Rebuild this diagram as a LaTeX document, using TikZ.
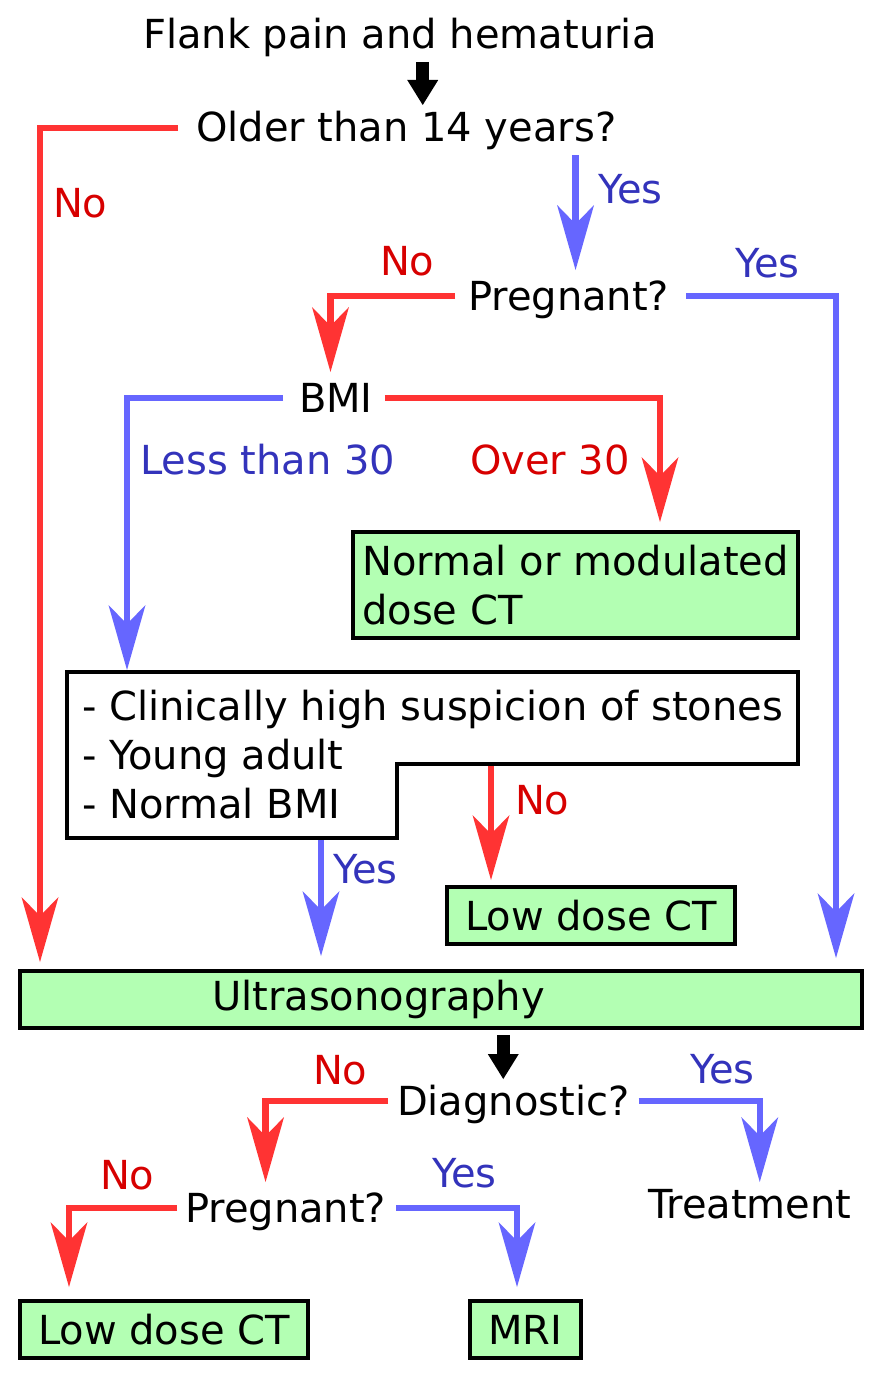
\documentclass[tikz,border=0pt]{standalone}
\usepackage{fontspec}
\setmainfont{DejaVu Sans}
\usetikzlibrary{arrows.meta}
\definecolor{redline}{RGB}{255,51,51}
\definecolor{redtext}{RGB}{215,0,0}
\definecolor{blueline}{RGB}{102,102,255}
\definecolor{bluetext}{RGB}{51,51,187}
\definecolor{boxgreen}{RGB}{179,255,179}
\begin{document}
\begin{tikzpicture}[x=1pt,y=-1pt,
  fnt/.style={font=\fontsize{40}{49}\selectfont},
  txt/.style={fnt, inner sep=0pt, outer sep=0pt, text height=28pt, text depth=0pt, anchor=base west},
  rlbl/.style={txt, text=redtext},
  blbl/.style={txt, text=bluetext},
  box/.style={fnt, draw=black, line width=3.5pt, fill=boxgreen, inner sep=0pt, outer sep=0pt, anchor=north west, align=left},
  conn/.style={line width=6.5pt},
  redarrow/.style={conn, draw=redline, -{Stealth[length=65pt,width=37pt,inset=19pt,line width=0pt]}},
  bluearrow/.style={conn, draw=blueline, -{Stealth[length=65pt,width=37pt,inset=19pt,line width=0pt]}},
  blackarrow/.style={line width=13pt, draw=black, -{Triangle[length=25pt,width=31pt,line width=0pt]}}
]
\fill[white] (0,0) rectangle (883,1378);
\useasboundingbox (0,0) rectangle (883,1378);

% text nodes
\node[txt] (flank) at (143,49) {Flank pain and hematuria};
\node[txt] (older) at (196,142) {Older than 14 years?};
\node[txt] (preg) at (468,310) {Pregnant?};
\node[txt] (bmi) at (299,412) {BMI};
\node[txt] (diag) at (397,1115) {Diagnostic?};
\node[txt] (treat) at (648,1218) {Treatment};
\node[txt] (preg2) at (185,1222) {Pregnant?};

% boxes
\node[box, minimum width=445pt, minimum height=106pt] (nmct) at (353,532) {Normal or modulated\\dose CT};
\node[box, minimum width=288pt, minimum height=57pt] (ldct) at (447,887) {Low dose CT};
\node[box, minimum width=842pt, minimum height=57pt, text width=458pt, inner xsep=192pt] (us) at (20,971) {Ultrasonography};
\node[box, minimum width=288pt, minimum height=57pt] (ldct2) at (20,1301) {Low dose CT};
\node[box, minimum width=111pt, minimum height=57pt] (mri) at (470,1301) {MRI};

% notched box
\coordinate (p1) at (67,672);
\coordinate (p2) at (798,672);
\coordinate (p3) at (798,764);
\coordinate (p4) at (397,764);
\coordinate (p5) at (397,838);
\coordinate (p6) at (67,838);
\coordinate (lessin) at (127,672);
\coordinate (susno) at (491,764);
\coordinate (susyes) at (321,838);
\node[fnt, align=left, inner sep=0pt, outer sep=0pt, anchor=north west] (susp) at (82,690.6)
  {- Clinically high suspicion of stones\\- Young adult\\- Normal BMI};

% labels
\node[blbl] (l1) at (598,203) {Yes};
\node[rlbl] (l2) at (53,217) {No};
\node[rlbl] (l3) at (380,275) {No};
\node[blbl] (l4) at (735,277) {Yes};
\node[blbl] (l5) at (140,474) {Less than 30};
\node[rlbl] (l6) at (470,474) {Over 30};
\node[rlbl] (l7) at (515,814) {No};
\node[blbl] (l8) at (333,883) {Yes};
\node[rlbl] (l9) at (313,1084) {No};
\node[blbl] (l10) at (690,1083) {Yes};
\node[rlbl] (l11) at (100,1189) {No};
\node[blbl] (l12) at (432,1187) {Yes};

% connectors
\draw[blackarrow, shorten <=13pt, shorten >=9pt] ([xshift=23pt]flank.south) -- ([xshift=23pt]flank.south |- older.north);
\draw[redarrow, shorten <=18pt, shorten >=9pt] (older.west) -| ([xshift=20pt]us.north west);
\draw[bluearrow, shorten <=13pt, shorten >=12pt] ([xshift=7pt]preg.north |- older.south) -- ([xshift=7pt]preg.north);
\draw[redarrow, shorten <=13pt, shorten >=12pt] (preg.west) -| ([xshift=-5.4pt]bmi.north);
\draw[bluearrow, shorten <=17pt, shorten >=13pt] (preg.east) -| ([xshift=-26pt]us.north east);
\draw[bluearrow, shorten <=16pt, shorten >=2pt] (bmi.west) -| (lessin);
\draw[redarrow, shorten <=12pt, shorten >=10pt] (bmi.east) -| ([xshift=84.5pt]nmct.north);
\draw[redarrow, shorten >=7pt] (susno) -- (susno |- ldct.north);
\draw[bluearrow, shorten >=15pt] (susyes) -- (susyes |- us.north);
\draw[blackarrow, shorten <=7pt, shorten >=8pt] ([xshift=-10pt]diag.north |- us.south) -- ([xshift=-10pt]diag.north);
\draw[redarrow, shorten <=9pt, shorten >=12pt] (diag.west) -| ([xshift=-20pt]preg2.north);
\draw[bluearrow, shorten <=9pt, shorten >=8pt] (diag.east) -| ([xshift=10pt]treat.north);
\draw[redarrow, shorten <=8pt, shorten >=14pt] (preg2.west) -| ([xshift=-95pt]ldct2.north);
\draw[bluearrow, shorten <=10pt, shorten >=14pt] (preg2.east) -| ([xshift=-8.5pt]mri.north);

\draw[line width=3.5pt] (p1) -- (p2) -- (p3) -- (p4) -- (p5) -- (p6) -- cycle;
\end{tikzpicture}
\end{document}
